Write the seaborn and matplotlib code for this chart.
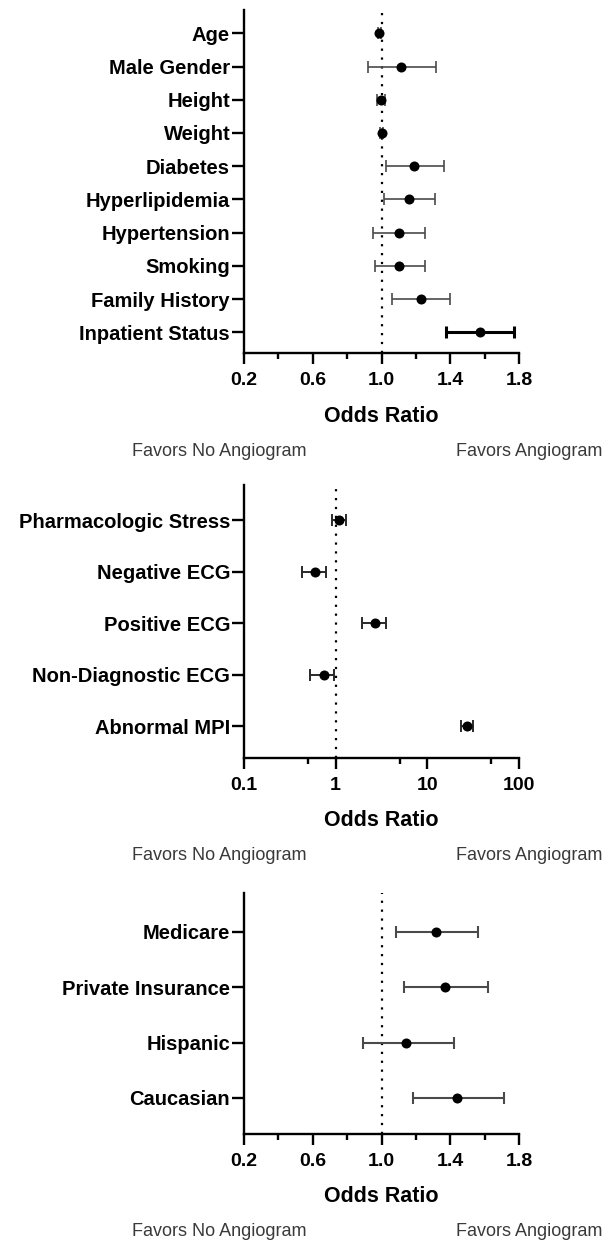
import numpy as np
import pandas as pd
import matplotlib
matplotlib.use("Agg")
import matplotlib.pyplot as plt
import seaborn as sns
from matplotlib.ticker import FixedLocator, NullFormatter

# ---------------- data ----------------
p1_labels = ["Age", "Male Gender", "Height", "Weight", "Diabetes", "Hyperlipidemia",
             "Hypertension", "Smoking", "Family History", "Inpatient Status"]
p1_or = [0.987, 1.115, 0.997, 1.000, 1.189, 1.160, 1.099, 1.103, 1.231, 1.571]
p1_lo = [0.980, 0.924, 0.975, 0.990, 1.025, 1.013, 0.953, 0.962, 1.063, 1.373]
p1_hi = [0.995, 1.317, 1.020, 1.010, 1.366, 1.312, 1.254, 1.254, 1.400, 1.773]

p2_labels = ["Pharmacologic Stress", "Negative ECG", "Positive ECG",
             "Non-Diagnostic ECG", "Abnormal MPI"]
p2_or = [1.10, 0.595, 2.68, 0.745, 27.0]
p2_lo = [0.92, 0.425, 1.93, 0.530, 23.3]
p2_hi = [1.29, 0.782, 3.52, 0.966, 31.5]

p3_labels = ["Medicare", "Private Insurance", "Hispanic", "Caucasian"]
p3_or = [1.317, 1.369, 1.144, 1.440]
p3_lo = [1.085, 1.133, 0.890, 1.182]
p3_hi = [1.560, 1.620, 1.422, 1.710]

lin_ticks = [0.2, 0.6, 1.0, 1.4, 1.8]
lin_tick_labels = ["0.2", "0.6", "1.0", "1.4", "1.8"]
lin_minor = [0.4, 0.8, 1.2, 1.6]
log_ticks = [0.1, 1, 10, 100]
log_tick_labels = ["0.1", "1", "10", "100"]
log_minor = [0.5, 5, 50]

xlabel_text = "Odds Ratio"
favors_left = "Favors No Angiogram"
favors_right = "Favors Angiogram"

# ---------------- style ----------------
sns.set_theme(style="ticks")
plt.rcParams['font.family'] = ['Liberation Sans', 'DejaVu Sans']

W, H = 604, 1241
fig = plt.figure(figsize=(W / 100, H / 100), dpi=100)
fig.patch.set_facecolor("white")


def make_axes(top, bottom):
    return fig.add_axes([244 / W, 1 - bottom / H, 275 / W, (bottom - top) / H])


def forest(ax, labels, est, lo, hi, top_m, bot_m, ecolor, elw, strong=None):
    df = pd.DataFrame({"label": labels, "est": est, "lo": lo, "hi": hi})
    df["pos"] = np.arange(len(df))
    ax.axvline(1.0, color="black", lw=1.6, ls=(0, (1, 3)), zorder=1)
    for i, r in df.iterrows():
        c, w = (ecolor, elw)
        if strong is not None and i == strong:
            c, w = ("black", 2.2)
        ax.errorbar(x=[r.est], y=[r.pos],
                    xerr=[[r.est - r.lo], [r.hi - r.est]],
                    fmt="none", ecolor=c, elinewidth=w, capsize=4,
                    capthick=w, zorder=2)
    sns.scatterplot(data=df, x="est", y="pos", ax=ax, color="black", s=52,
                    edgecolor="black", linewidth=0, zorder=3, legend=False)
    ax.set_yticks(df["pos"])
    ax.set_yticklabels(labels, fontsize=14.5, fontweight="bold")
    ax.set_ylim(len(df) - 1 + bot_m, -top_m)
    ax.set_ylabel("")
    sns.despine(ax=ax)
    for s in ["left", "bottom"]:
        ax.spines[s].set_linewidth(1.7)
        ax.spines[s].set_color("black")
    ax.tick_params(axis="y", length=8.5, width=1.7, pad=1.5, colors="black")
    ax.tick_params(axis="x", which="major", length=8, width=1.7, pad=6,
                   labelsize=14, colors="black")
    ax.tick_params(axis="x", which="minor", length=4.5, width=1.7, colors="black")
    for t in ax.get_xticklabels():
        t.set_fontweight("bold")


def x_linear(ax):
    ax.set_xlim(0.2, 1.8)
    ax.set_xticks(lin_ticks)
    ax.set_xticklabels(lin_tick_labels, fontweight="bold", fontsize=14)
    ax.xaxis.set_minor_locator(FixedLocator(lin_minor))


def x_log(ax):
    ax.set_xscale("log")
    ax.set_xlim(0.1, 100)
    ax.set_xticks(log_ticks)
    ax.set_xticklabels(log_tick_labels, fontweight="bold", fontsize=14)
    ax.xaxis.set_minor_locator(FixedLocator(log_minor))
    ax.xaxis.set_minor_formatter(NullFormatter())


def annotate(ax, xlabel_y, favors_y):
    ax.set_xlabel(xlabel_text, fontsize=15.5, fontweight="bold", color="black")
    ax.xaxis.set_label_coords(381.5 / W, 1 - xlabel_y / H, transform=fig.transFigure)
    ax.xaxis.label.set_va("center")
    fig.text(219 / W, 1 - favors_y / H, favors_left, ha="center", va="center",
             fontsize=13, color="#3a3a3a")
    fig.text(602 / W, 1 - favors_y / H, favors_right, ha="right", va="center",
             fontsize=13, color="#3a3a3a")


# Panel 1
ax1 = make_axes(10, 353)
forest(ax1, p1_labels, p1_or, p1_lo, p1_hi, 0.70, 0.62, "#4a4a4a", 1.2, strong=9)
x_linear(ax1)
annotate(ax1, 416, 451)

# Panel 2
ax2 = make_axes(485, 758)
forest(ax2, p2_labels, p2_or, p2_lo, p2_hi, 0.68, 0.62, "#2a2a2a", 1.4)
x_log(ax2)
annotate(ax2, 821, 856)

# Panel 3
ax3 = make_axes(893, 1134)
forest(ax3, p3_labels, p3_or, p3_lo, p3_hi, 0.70, 0.65, "#4a4a4a", 1.5)
x_linear(ax3)
annotate(ax3, 1196, 1231)

fig.savefig("out.png", dpi=100, facecolor="white")
